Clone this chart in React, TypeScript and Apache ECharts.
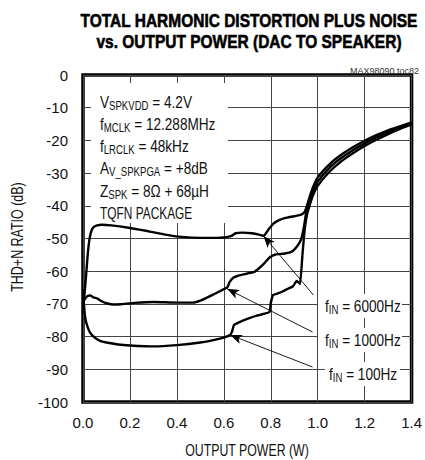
import React, { useEffect, useRef } from "react";
import * as echarts from "echarts";

const FONT = "'Liberation Sans', Arial, sans-serif";

const titleLines = [
  "TOTAL HARMONIC DISTORTION PLUS NOISE",
  "vs. OUTPUT POWER (DAC TO SPEAKER)",
];
const figureTag = "MAX98090 toc82";
const xAxisName = "OUTPUT POWER (W)";
const yAxisName = "THD+N RATIO (dB)";

const xMin = 0;
const xMax = 1.4;
const xStep = 0.2;
const yMin = -100;
const yMax = 0;
const yStep = 10;

const conditionLines = [
  "{m|V}{s|SPKVDD}{m| = 4.2V}",
  "{m|f}{s|MCLK}{m| = 12.288MHz}",
  "{m|f}{s|LRCLK}{m| = 48kHz}",
  "{m|A}{s|V_SPKPGA}{m| = +8dB}",
  "{m|Z}{s|SPK}{m| = 8\u03A9 + 68\u00B5H}",
  "{m|TQFN PACKAGE}",
];

const seriesNames = ["fIN = 6000Hz", "fIN = 1000Hz", "fIN = 100Hz"];
const seriesLabels = [
  "{m|f}{s|IN}{m| = 6000Hz}",
  "{m|f}{s|IN}{m| = 1000Hz}",
  "{m|f}{s|IN}{m| = 100Hz}",
];

const f6000Hz: [number, number][] = [
  [0.0, -70], [0.005, -68], [0.01, -64], [0.015, -59.6], [0.02, -55], [0.027, -50.5],
  [0.035, -47.8], [0.045, -46.5], [0.06, -46], [0.08, -45.8], [0.12, -46], [0.2, -46.8],
  [0.28, -47.8], [0.35, -48.8], [0.42, -49.5], [0.5, -49.8], [0.57, -49.8], [0.61, -49.6],
  [0.63, -49.3], [0.65, -48.4], [0.68, -48.2], [0.72, -48.4], [0.75, -48.8], [0.77, -49.2],
  [0.79, -47.3], [0.81, -45.5], [0.84, -44.2], [0.87, -43.6], [0.9, -43.2], [0.93, -42.7],
  [0.945, -41.8], [0.955, -39.8], [0.965, -37.4], [0.98, -34.3], [1.0, -31.3], [1.05, -27.3],
  [1.1, -24.4], [1.15, -22.1], [1.2, -20.1], [1.25, -18.4], [1.3, -16.9], [1.35, -15.7],
  [1.4, -14.5],
];

const f1000Hz: [number, number][] = [
  [0.0, -69.5], [0.01, -68.3], [0.02, -67.6], [0.03, -67.4], [0.045, -68], [0.06, -68.3],
  [0.08, -69.2], [0.1, -69.8], [0.13, -70.2], [0.16, -70.1], [0.22, -69.7], [0.3, -69.4],
  [0.4, -69.6], [0.47, -69.6], [0.5, -69], [0.53, -68], [0.57, -66.6], [0.6, -65.5],
  [0.615, -64.9], [0.625, -63.3], [0.64, -62], [0.67, -61.2], [0.7, -60.7], [0.73, -60.2],
  [0.755, -58.8], [0.775, -57.4], [0.795, -55.8], [0.82, -54.9], [0.86, -54.6], [0.89, -54],
  [0.91, -52.6], [0.928, -50.5], [0.94, -47], [0.95, -42.5], [0.96, -39], [0.97, -37.2],
  [0.98, -35.4], [1.0, -32.6], [1.05, -28.4], [1.1, -25.4], [1.15, -23], [1.2, -20.9],
  [1.25, -19.1], [1.3, -17.5], [1.35, -16.1], [1.4, -14.8],
];

const f100Hz: [number, number][] = [
  [0.0, -65.5], [0.004, -70], [0.008, -73.5], [0.015, -76], [0.03, -78.8], [0.05, -80.3],
  [0.07, -81.2], [0.1, -81.8], [0.15, -82.4], [0.2, -82.7], [0.3, -83], [0.4, -82.6],
  [0.5, -81.8], [0.56, -81], [0.6, -80.3], [0.627, -79.5], [0.635, -78.5], [0.643, -76.5],
  [0.66, -75.8], [0.7, -74.6], [0.74, -73.6], [0.775, -73], [0.795, -72.4], [0.8, -69.8],
  [0.81, -67.3], [0.83, -66.8], [0.85, -66.2], [0.875, -65.3], [0.895, -64.6], [0.91, -63],
  [0.92, -63.5], [0.925, -63.9], [0.935, -55], [0.945, -47], [0.955, -42.5], [0.965, -40],
  [0.98, -36.8], [1.0, -33.9], [1.05, -29.6], [1.1, -26.4], [1.15, -23.9], [1.2, -21.7],
  [1.25, -19.8], [1.3, -18.1], [1.35, -16.5], [1.4, -15.1],
];

const seriesData = [f6000Hz, f1000Hz, f100Hz];

// arrow annotations: [tail, head] in data units
const arrowFrom: [number, number][] = [[0.982, -67.3], [0.978, -78.6], [0.978, -89.3]];
const arrowTo: [number, number][] = [[0.769, -49.2], [0.614, -65.4], [0.627, -79.5]];

export default function App() {
  const ref = useRef<HTMLDivElement>(null);

  useEffect(() => {
    document.body.style.margin = "0";
    if (!ref.current) return;
    const chart = echarts.init(ref.current, undefined, { renderer: "svg" });

    const richMain = { fontSize: 17, fontFamily: FONT, fill: "#111" };
    const richSub = { fontSize: 12, fontFamily: FONT, fill: "#111", padding: [8, 0, 0, 0] };

    const graphic: any[] = [];
    // white backing boxes (hide grid lines behind labels)
    graphic.push({ type: "rect", z: 1, shape: { x: 91, y: 83, width: 137, height: 140 }, style: { fill: "#fff" } });
    const labelY = [306, 340, 374];
    const labelX = [325, 325, 329];
    const boxX = [318, 318, 325];
    const boxW = [84, 84, 75];
    labelY.forEach((y, i) => {
      graphic.push({ type: "rect", z: 1, shape: { x: boxX[i], y: y - 12, width: boxW[i], height: 24 }, style: { fill: "#fff" } });
      graphic.push({
        type: "text", z: 5, x: labelX[i], y, scaleX: 0.8,
        style: { text: seriesLabels[i], rich: { m: richMain, s: richSub }, align: "left", verticalAlign: "middle", fill: "#111" },
      });
    });
    const condY = [102, 124, 146, 168, 191, 213];
    const condScale = [0.8, 0.8, 0.8, 0.8, 0.8, 0.7];
    conditionLines.forEach((t, i) => {
      graphic.push({
        type: "text", z: 5, x: 100, y: condY[i], scaleX: condScale[i],
        style: { text: t, rich: { m: richMain, s: richSub }, align: "left", verticalAlign: "middle", fill: "#111" },
      });
    });
    titleLines.forEach((t, i) => {
      graphic.push({
        type: "text", z: 5, x: 249, y: 20.5 + i * 20.5, scaleX: 0.815,
        style: {
          text: t, fontSize: 19, fontWeight: "bold", fontFamily: FONT, fill: "#000",
          stroke: "#000", lineWidth: 0.6, align: "center", verticalAlign: "middle",
        },
      });
    });
    graphic.push({
      type: "text", z: 5, x: 419, y: 71,
      style: { text: figureTag, fontSize: 9, fontFamily: FONT, fill: "#333", align: "right", verticalAlign: "middle" },
    });
    graphic.push({
      type: "text", z: 5, x: 247, y: 450, scaleX: 0.77,
      style: { text: xAxisName, fontSize: 16, fontFamily: FONT, fill: "#111", align: "center", verticalAlign: "middle" },
    });
    graphic.push({
      type: "text", z: 5, x: 17, y: 237, rotation: Math.PI / 2, scaleX: 0.78,
      style: { text: yAxisName, fontSize: 16, fontFamily: FONT, fill: "#111", align: "center", verticalAlign: "middle" },
    });

    chart.setOption({
      animation: false,
      grid: { left: 83, right: 7, top: 75, bottom: 58, show: true, borderColor: "#000", borderWidth: 3.5, backgroundColor: "transparent" },
      xAxis: {
        type: "value", min: xMin, max: xMax, interval: xStep,
        axisLine: { show: false }, axisTick: { show: false },
        splitLine: { show: true, lineStyle: { color: "#444", width: 1 } },
        axisLabel: { formatter: (v: number) => v.toFixed(1), fontSize: 15, fontFamily: FONT, color: "#111", margin: 13 },
      },
      yAxis: {
        type: "value", min: yMin, max: yMax, interval: yStep,
        axisLine: { show: false }, axisTick: { show: false },
        splitLine: { show: true, lineStyle: { color: "#444", width: 1 } },
        axisLabel: { fontSize: 15, fontFamily: FONT, color: "#111", margin: 15 },
      },
      graphic,
      series: seriesData.map((d, i) => ({
        name: seriesNames[i],
        type: "line",
        data: d,
        showSymbol: false,
        smooth: 0.15,
        z: 2,
        lineStyle: { color: "#000", width: 2.4 },
        markLine: {
          silent: true,
          symbol: ["none", "arrow"],
          symbolSize: [7, 12],
          label: { show: false },
          lineStyle: { color: "#000", width: 0.9, type: "solid" },
          data: [[{ coord: arrowFrom[i] }, { coord: arrowTo[i] }]],
        },
      })),
    });

    return () => chart.dispose();
  }, []);

  return <div ref={ref} style={{ width: 425, height: 460 }} />;
}
